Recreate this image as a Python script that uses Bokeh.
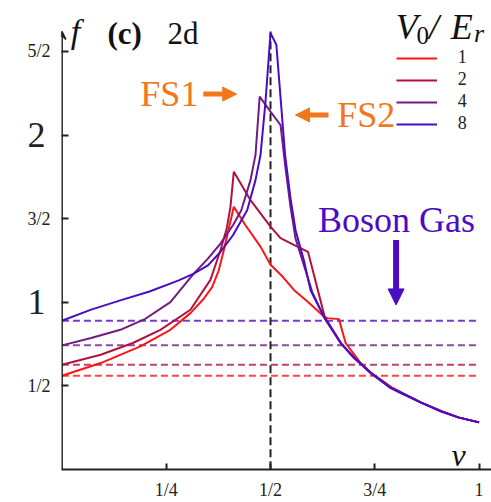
from bokeh.plotting import figure
from bokeh.models import (Range1d, Label, Arrow, NormalHead, VeeHead, Legend, LegendItem,
                          FixedTicker, LinearAxis)
from bokeh.embed import file_html
from bokeh.resources import INLINE

# ---------------- data ----------------
v0_labels = ["1", "2", "4", "8"]
colors = ["#ff1414", "#b0123e", "#731a84", "#4c0cc4"]

nu_1 = [0, 0.093, 0.188, 0.26, 0.308, 0.34, 0.36, 0.376, 0.388, 0.40, 0.412, 0.44, 0.476, 0.50,
        0.53, 0.556, 0.59, 0.628, 0.636, 0.664, 0.68, 0.716, 0.74, 0.79, 0.86, 0.91, 0.95, 1.0]
f_1 = [0.559, 0.635, 0.735, 0.834, 0.934, 1.02, 1.09, 1.19, 1.31, 1.44, 1.57, 1.46, 1.332, 1.223,
       1.15, 1.073, 1.0, 0.914, 0.904, 0.898, 0.755, 0.635, 0.578, 0.49, 0.40, 0.347, 0.31, 0.28]

nu_2 = [0, 0.093, 0.17, 0.236, 0.308, 0.356, 0.38, 0.395, 0.404, 0.412, 0.452, 0.50, 0.524,
        0.556, 0.59, 0.63, 0.67, 0.70, 0.74, 0.79, 0.86, 0.91, 0.95, 1.0]
f_2 = [0.625, 0.685, 0.755, 0.834, 0.954, 1.133, 1.31, 1.44, 1.57, 1.78, 1.61, 1.452, 1.383,
       1.342, 1.30, 0.91, 0.75, 0.668, 0.578, 0.488, 0.40, 0.347, 0.31, 0.28]

nu_4 = [0, 0.07, 0.14, 0.20, 0.26, 0.316, 0.35, 0.38, 0.41, 0.43, 0.452, 0.464, 0.474, 0.50,
        0.524, 0.536, 0.548, 0.56, 0.58, 0.60, 0.63, 0.67, 0.70, 0.74, 0.79, 0.86, 0.91, 0.95, 1.0]
f_4 = [0.741, 0.785, 0.834, 0.90, 1.0, 1.17, 1.26, 1.35, 1.46, 1.55, 1.73, 1.88, 2.23, 2.14,
       2.06, 1.80, 1.57, 1.38, 1.22, 1.06, 0.90, 0.75, 0.665, 0.575, 0.485, 0.40, 0.346, 0.31, 0.28]

nu_8 = [0, 0.07, 0.14, 0.21, 0.28, 0.316, 0.35, 0.38, 0.41, 0.444, 0.464, 0.476, 0.488, 0.50,
        0.514, 0.535, 0.548, 0.56, 0.58, 0.596, 0.628, 0.668, 0.70, 0.74, 0.787, 0.812, 0.86,
        0.907, 0.95, 1.0]
f_8 = [0.888, 0.955, 1.01, 1.063, 1.13, 1.17, 1.22, 1.30, 1.40, 1.55, 1.73, 1.88, 2.2, 2.61,
       2.54, 1.88, 1.62, 1.43, 1.25, 1.07, 0.914, 0.755, 0.67, 0.576, 0.486, 0.456, 0.40,
       0.346, 0.31, 0.28]

curves_nu = [nu_1, nu_2, nu_4, nu_8]
curves_f = [f_1, f_2, f_4, f_8]

boson_f = [0.559, 0.625, 0.741, 0.888]   # boson gas limits (dashed)
boson_nu_range = [0.0, 1.0]
half_filling = [0.5]
vline_top = [2.62]

x_ticks = [0.25, 0.5, 0.75, 1.0]
x_tick_labels = ["1/4", "1/2", "3/4", "1"]
y_ticks = [0.5, 1.0, 1.5, 2.0, 2.5]
y_tick_labels = ["1/2", "1", "3/2", "2", "5/2"]

# ---------------- figure ----------------
SERIF = "Liberation Serif"
ORANGE = "#f2761a"
BOSON = "#4c0cc4"
INK = "#222222"

p = figure(width=491, height=502, x_range=Range1d(-0.001, 1.0297),
           y_range=Range1d(-0.002, 2.805), output_backend="svg", toolbar_location=None,
           min_border_left=61, min_border_right=0, min_border_top=0, min_border_bottom=32)
p.grid.visible = False
p.outline_line_color = None
p.background_fill_color = "white"

# dashed boson-gas lines
p.segment(x0=[boson_nu_range[0]] * 4, x1=[boson_nu_range[1]] * 4, y0=boson_f, y1=boson_f,
          line_color=colors, line_width=2, line_dash="7 4", line_alpha=0.8)
# half filling
p.segment(x0=half_filling, x1=half_filling, y0=[0], y1=vline_top, line_color=INK,
          line_width=2, line_dash="8 4")

renderers = []
for nu, f, c in zip(curves_nu, curves_f, colors):
    renderers.append(p.line(nu, f, line_color=c, line_width=2))

# x axis
xa = p.xaxis[0]
xa.ticker = FixedTicker(ticks=x_ticks)
xa.major_label_overrides = {t: l for t, l in zip(x_ticks, x_tick_labels)}
xa.major_tick_in = 6
xa.major_tick_out = 0
xa.minor_tick_line_color = None
xa.axis_line_width = 2
xa.axis_line_color = INK
xa.major_tick_line_color = INK
xa.major_tick_line_width = 2
xa.major_label_text_font = SERIF
xa.major_label_text_font_size = "18px"
xa.major_label_text_color = INK
xa.major_label_standoff = 10

# y axis: fractions small (inner axis), integers large (outer axis pulled inward)
big = {"1", "2"}
ya = p.yaxis[0]
ya.ticker = FixedTicker(ticks=y_ticks)
ya.major_label_overrides = {t: ("" if l in big else l) for t, l in zip(y_ticks, y_tick_labels)}
ya.major_tick_in = 7
ya.major_tick_out = 0
ya.minor_tick_line_color = None
ya.axis_line_color = None
ya.major_tick_line_color = INK
ya.major_tick_line_width = 2
ya.major_label_text_font = SERIF
ya.major_label_text_font_size = "18px"
ya.major_label_text_color = INK
ya.major_label_standoff = 11

ya2 = LinearAxis(ticker=FixedTicker(ticks=y_ticks),
                 major_label_overrides={t: (l if l in big else "") for t, l in zip(y_ticks, y_tick_labels)},
                 major_tick_in=0, major_tick_out=0, minor_tick_line_color=None,
                 axis_line_color=None, major_tick_line_color=None,
                 major_label_text_font=SERIF, major_label_text_font_size="36px",
                 major_label_text_color=INK, major_label_standoff=-21)
p.add_layout(ya2, "left")

# y axis arrow
p.add_layout(Arrow(x_start=0, y_start=0, x_end=0, y_end=2.62, line_width=2, line_color=INK,
                   end=VeeHead(size=8, line_color=INK, line_width=1.5)))

# axis names and title
p.add_layout(Label(x=0.021, y=2.62, text="f", text_font=SERIF, text_font_style="italic",
                   text_font_size="34px", text_baseline="middle", text_color="#111111"))
p.add_layout(Label(x=0.109, y=2.61, text="(c)", text_font=SERIF, text_font_style="bold",
                   text_font_size="31px", text_baseline="middle", text_color="#111111"))
p.add_layout(Label(x=0.253, y=2.61, text="2d", text_font=SERIF,
                   text_font_size="31px", text_baseline="middle", text_color="#111111"))
p.add_layout(Label(x=0.951, y=0.087, text="ν", text_font=SERIF, text_font_style="italic",
                   text_font_size="32px", text_align="center", text_baseline="middle",
                   text_color="#111111"))

# annotations
p.add_layout(Label(x=0.188, y=2.248, text="FS1", text_font=SERIF, text_font_size="36px",
                   text_baseline="middle", text_color=ORANGE))
p.add_layout(Label(x=0.660, y=2.12, text="FS2", text_font=SERIF, text_font_size="36px",
                   text_baseline="middle", text_color=ORANGE))
p.add_layout(Label(x=0.614, y=1.491, text="Boson Gas", text_font=SERIF, text_font_size="36px",
                   text_baseline="middle", text_color=BOSON))
p.add_layout(Arrow(x_start=0.339, y_start=2.245, x_end=0.419, y_end=2.245, line_width=5,
                   line_color=ORANGE,
                   end=NormalHead(size=14, fill_color=ORANGE, line_color=ORANGE, line_width=1)))
p.add_layout(Arrow(x_start=0.639, y_start=2.12, x_end=0.560, y_end=2.12, line_width=5,
                   line_color=ORANGE,
                   end=NormalHead(size=14, fill_color=ORANGE, line_color=ORANGE, line_width=1)))
p.add_layout(Arrow(x_start=0.801, y_start=1.372, x_end=0.801, y_end=0.983, line_width=6,
                   line_color=BOSON,
                   end=NormalHead(size=16, fill_color=BOSON, line_color=BOSON, line_width=1)))

# legend
legend = Legend(items=[LegendItem(label=l, renderers=[r]) for l, r in zip(v0_labels, renderers)],
                location=(334.7, 335), glyph_width=41, glyph_height=20, label_height=20,
                label_width=10, spacing=1, padding=0, margin=0, label_standoff=21,
                border_line_color=None, background_fill_alpha=0,
                label_text_font=SERIF, label_text_font_size="18px", label_text_color=INK)
p.add_layout(legend)

# legend title V_0 / E_r
TY = 2.645
p.add_layout(Label(x=0.800, y=TY, text="V", text_font=SERIF, text_font_style="italic",
                   text_font_size="36px", text_baseline="alphabetic", text_color="#111111"))
p.add_layout(Label(x=0.850, y=TY - 0.05, text="0", text_font=SERIF,
                   text_font_size="25px", text_baseline="alphabetic", text_color="#111111"))
p.add_layout(Label(x=0.880, y=TY, text="/", text_font=SERIF, text_font_style="italic",
                   text_font_size="36px", text_baseline="alphabetic", text_color="#111111"))
p.add_layout(Label(x=0.932, y=TY, text="E", text_font=SERIF, text_font_style="italic",
                   text_font_size="36px", text_baseline="alphabetic", text_color="#111111"))
p.add_layout(Label(x=0.988, y=TY - 0.035, text="r", text_font=SERIF, text_font_style="italic",
                   text_font_size="26px", text_baseline="alphabetic", text_color="#111111"))

open("out.html", "w").write(file_html(p, INLINE))
